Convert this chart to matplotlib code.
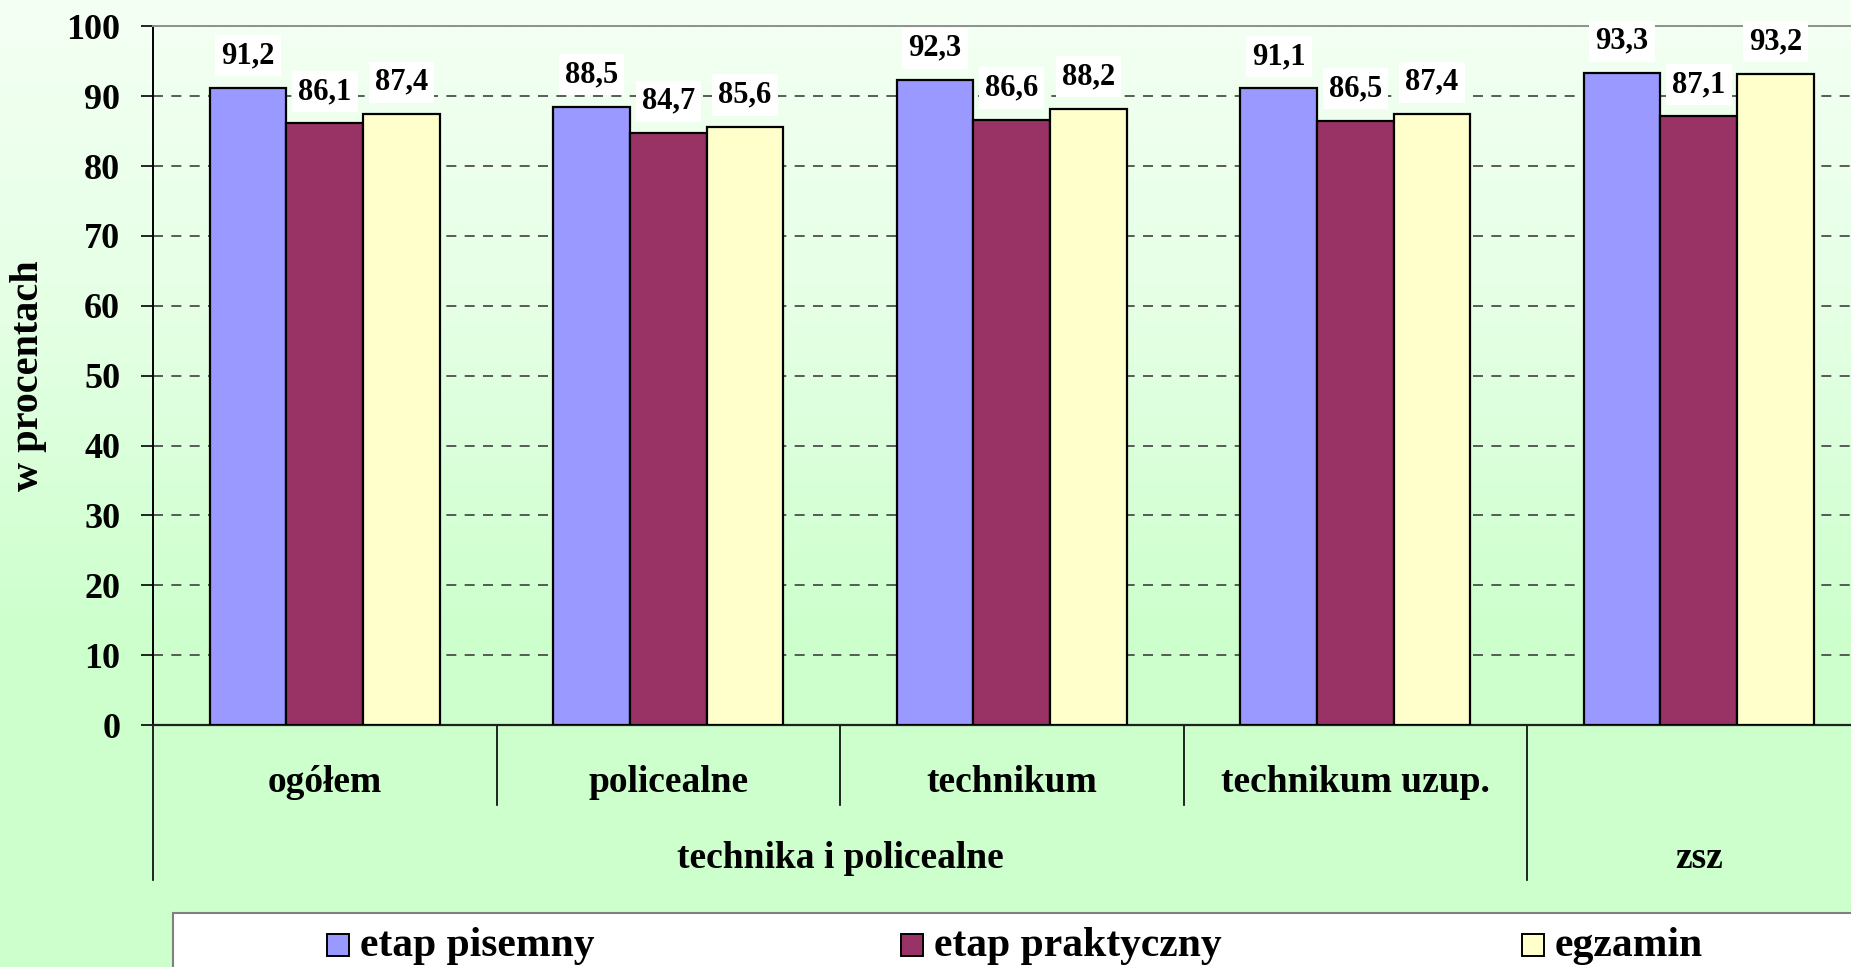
import numpy as np
import matplotlib
matplotlib.use("Agg")
import matplotlib.pyplot as plt
from matplotlib.colors import LinearSegmentedColormap
from matplotlib.patches import Rectangle

plt.rcParams['font.family'] = ['Liberation Serif', 'DejaVu Serif']
plt.rcParams['font.weight'] = 'bold'

# first level has no label under the zsz bars
categories = ["ogółem", "policealne", "technikum", "technikum uzup.", ""]
groups = ["technika i policealne", "zsz"]
group_sizes = [4, 1]
series = ["etap pisemny", "etap praktyczny", "egzamin"]
pisemny = [91.2, 88.5, 92.3, 91.1, 93.3]
praktyczny = [86.1, 84.7, 86.6, 86.5, 87.1]
egzamin = [87.4, 85.6, 88.2, 87.4, 93.2]
colors = ["#9999ff", "#993366", "#ffffcc"]

W, H = 1851, 967
fig = plt.figure(figsize=(W / 100, H / 100), dpi=100)

# background gradient
bg = fig.add_axes([0, 0, 1, 1], zorder=-10)
cmap = LinearSegmentedColormap.from_list("g", ["#f4fff4", "#e4ffe4", "#ccffcc", "#ccffcc"])
grad = np.linspace(0, 1, 256).reshape(-1, 1)
bg.imshow(grad, aspect='auto', cmap=cmap, extent=[0, 1, 0, 1], origin='upper')
bg.axis('off')

# plot area (right side runs past the figure edge, as in the original)
x0, ytop, yzero, cw = 153, 26.3, 725, 343.5
ax = fig.add_axes([x0 / W, (H - yzero) / H, 5 * cw / W, (yzero - ytop) / H])
ax.set_facecolor('none')

x = np.arange(len(categories))
w = 0.223
for i, vals in enumerate([pisemny, praktyczny, egzamin]):
    pos = x + (i - 1) * w
    ax.bar(pos, vals, width=w, color=colors[i], edgecolor='black', linewidth=1.6, zorder=3)
    for px, v in zip(pos, vals):
        ax.annotate(f"{v:.1f}".replace('.', ','), (px, v), xytext=(0, 23),
                    textcoords='offset points', ha='center', va='center',
                    fontsize=22, fontweight='bold', zorder=5,
                    bbox=dict(boxstyle='square,pad=0.2', fc='white', ec='none'))

ax.set_xlim(-0.5, len(categories) - 0.5)
ax.set_ylim(0, 100)
ax.set_yticks(np.arange(0, 101, 10))
ax.tick_params(axis='y', labelsize=26, length=8.6, width=1.2, pad=15, direction='out')
for lab in ax.get_yticklabels():
    lab.set_fontweight('bold')
ax.set_xticks([])
ax.yaxis.grid(True, linestyle=(0, (6, 5)), color='#404040', linewidth=1.2, zorder=0)
ax.spines['left'].set_linewidth(1.4)
ax.spines['bottom'].set_linewidth(1.6)
ax.spines['bottom'].set_color('#202020')
ax.spines['top'].set_color('#909090')
ax.spines['top'].set_linewidth(1.4)
ax.spines['right'].set_visible(False)

ax.set_ylabel("w procentach", fontsize=29, fontweight='bold')
ax.yaxis.set_label_coords(-(153 - 47) / (5 * cw), 0.5)

# hierarchical category axis
trans = ax.get_xaxis_transform()
ah = yzero - ytop
for i, c in enumerate(categories):
    ax.text(i, -(783 - yzero) / ah, c, transform=trans, ha='center', va='center',
            fontsize=27, fontweight='bold')
start = -0.5
for g, n in zip(groups, group_sizes):
    ax.text(start + n / 2, -(859 - yzero) / ah, g, transform=trans, ha='center',
            va='center', fontsize=27, fontweight='bold')
    ax.plot([start, start], [0, -(880 - yzero) / ah], transform=trans, color='black',
            linewidth=1.2, clip_on=False)
    for k in range(1, n):
        ax.plot([start + k, start + k], [0, -(805 - yzero) / ah], transform=trans,
                color='black', linewidth=1.2, clip_on=False)
    start += n
ax.plot([start, start], [0, -(880 - yzero) / ah], transform=trans, color='black',
        linewidth=1.2, clip_on=False)

# legend box
fig.patches.append(Rectangle((173 / W, -0.05), 1.0, (H - 913) / H + 0.05,
                             transform=fig.transFigure, facecolor='white',
                             edgecolor='#808080', linewidth=1.5, zorder=1))
leg_x = [327, 901, 1522]
for i, name in enumerate(series):
    fig.patches.append(Rectangle((leg_x[i] / W, (H - 956) / H), 22 / W, 22 / H,
                                 transform=fig.transFigure, facecolor=colors[i],
                                 edgecolor='black', linewidth=1.4, zorder=2))
    fig.text((leg_x[i] + 33) / W, (H - 946) / H, name, ha='left', va='center',
             fontsize=30, fontweight='bold', zorder=3)

fig.savefig("out.png", dpi=100)
